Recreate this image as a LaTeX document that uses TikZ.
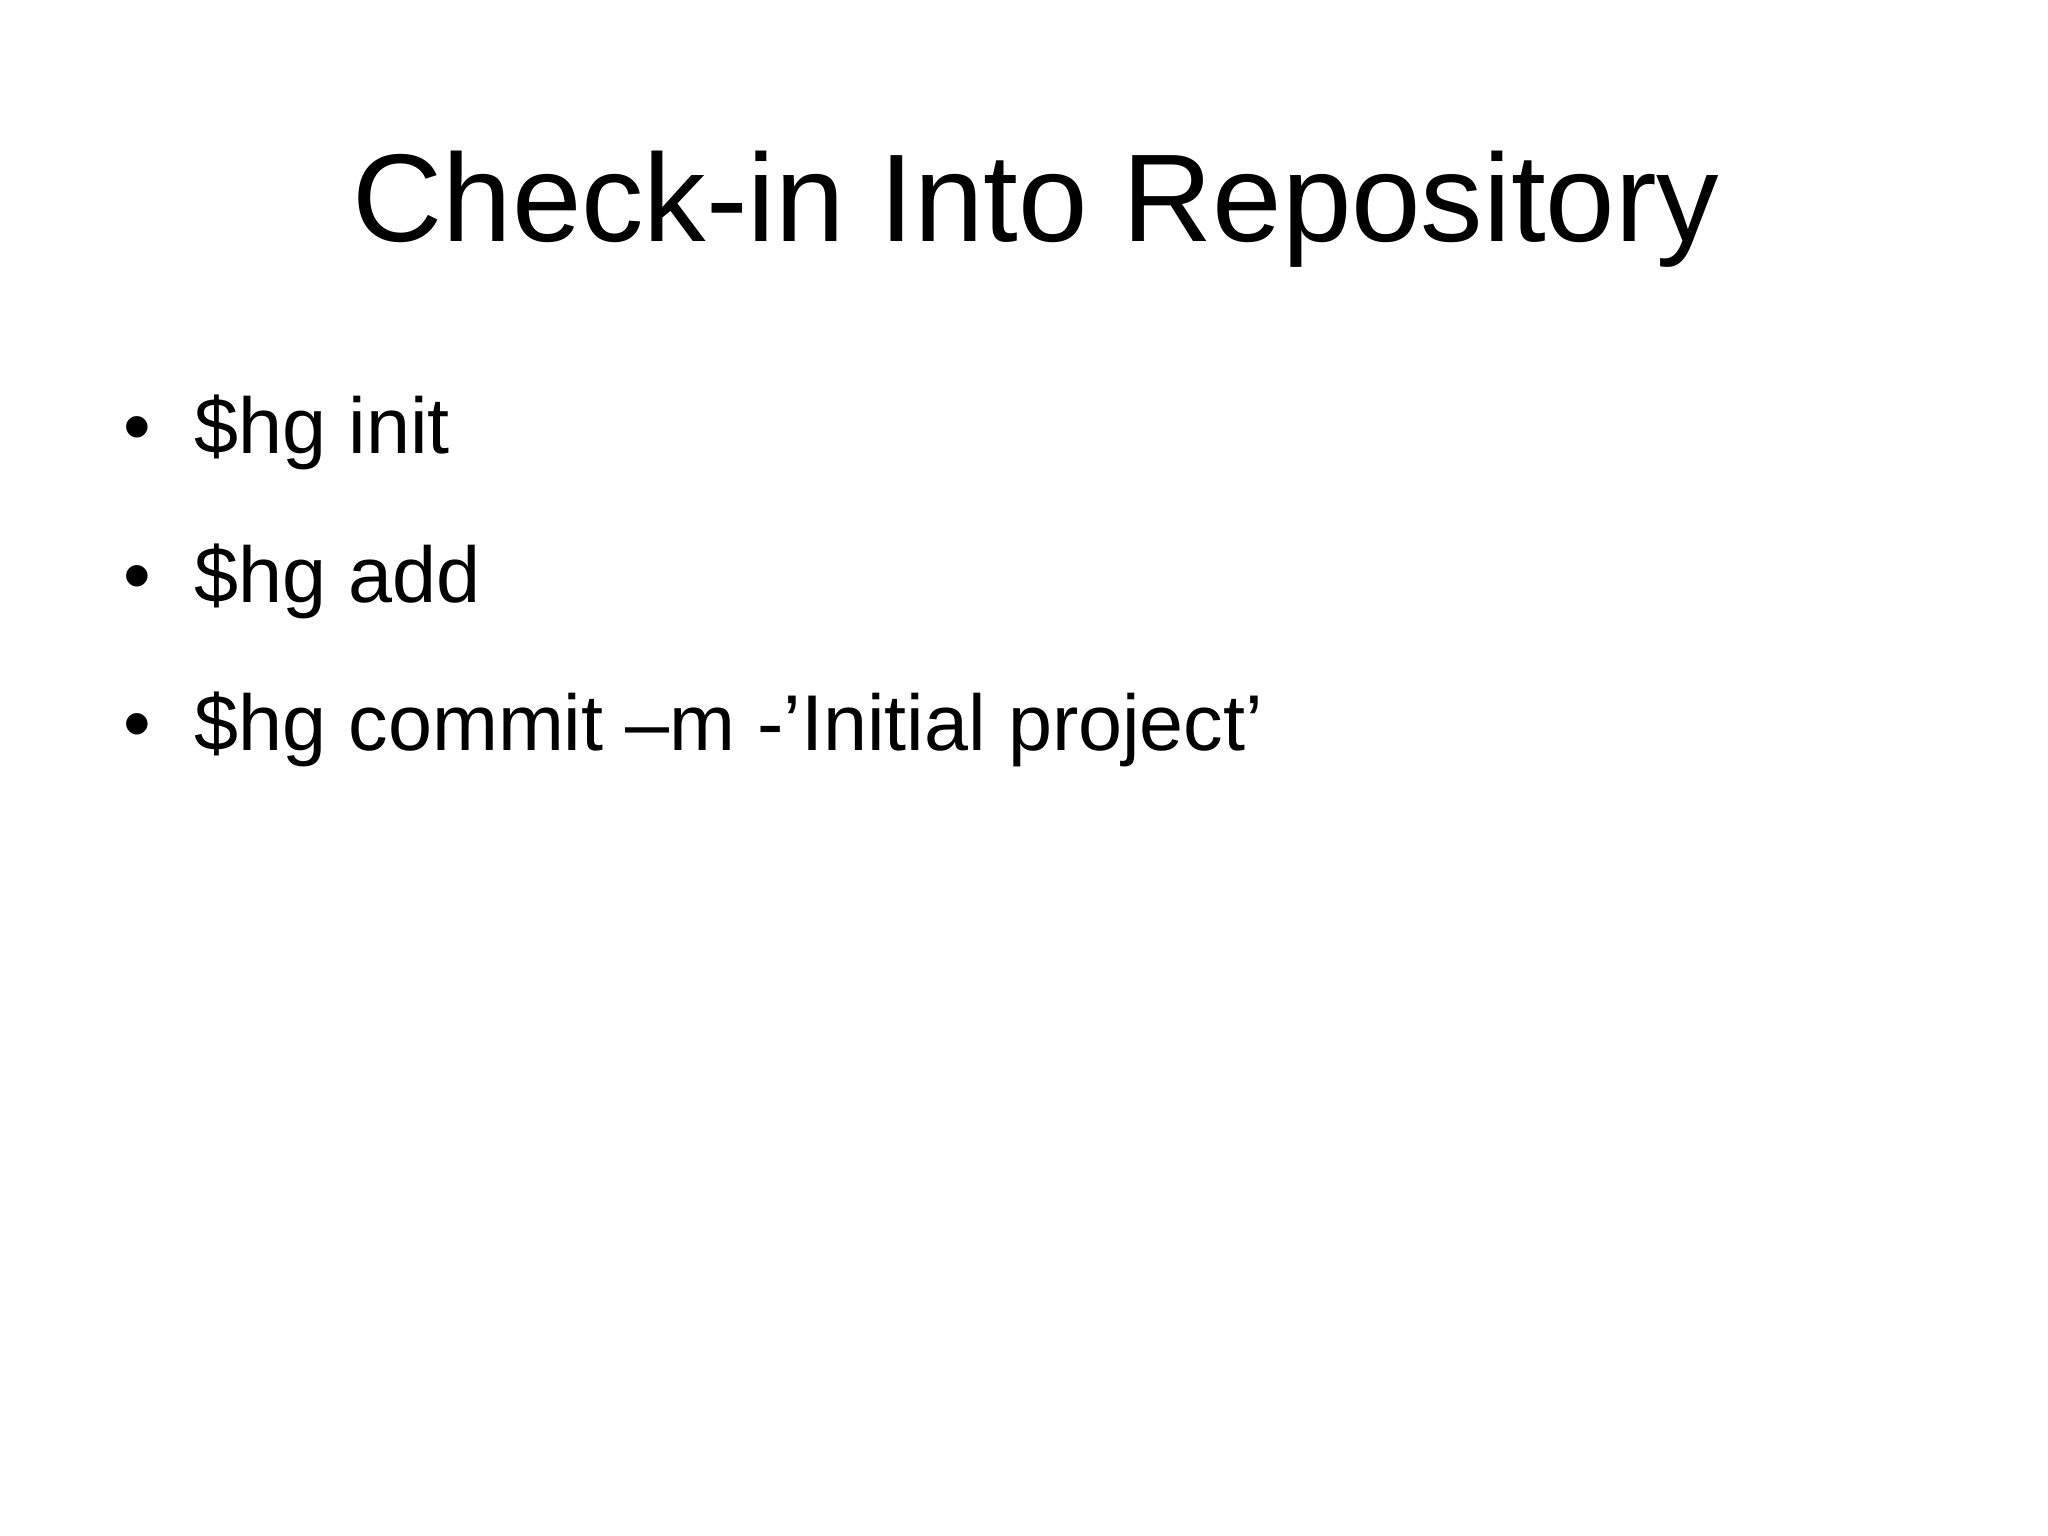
\documentclass[tikz,border=0pt]{standalone}
\usepackage{fontspec}
\setmainfont{Liberation Sans}
\begin{document}
\begin{tikzpicture}[x=0.01cm,y=-0.01cm,
  title/.style={font=\fontsize{35.5pt}{40pt}\selectfont,anchor=base,inner sep=0},
  item/.style={font=\fontsize{22.5pt}{26pt}\selectfont,anchor=base west,inner sep=0}]
\useasboundingbox[fill=white] (0,0) rectangle (2048,1535);
\node[title] (t) at (1036,241) {Check-in Into Repository};
\foreach \y/\txt/\n in {453/{\$hg init}/a, 602/{\$hg add}/b, 750/{\$hg commit –m -'Initial project'}/c}{
  \node[item] (b\n) at (123,\y) {•};
  \node[item] (i\n) at (194,\y) {\txt};
}
\end{tikzpicture}
\end{document}
